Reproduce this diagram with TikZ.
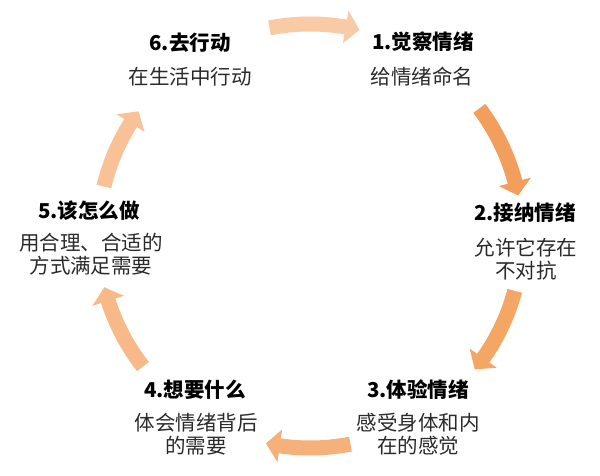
\documentclass[tikz,border=0pt]{standalone}
\usepackage{fontspec}
\setmainfont{Noto Sans CJK SC}
\definecolor{arA}{HTML}{F8CBA6}
\definecolor{arB}{HTML}{F29E5C}
\definecolor{arC}{HTML}{F4A665}
\definecolor{arD}{HTML}{F6B07A}
\definecolor{arE}{HTML}{F7B987}
\definecolor{arF}{HTML}{F8C196}
\definecolor{bodytext}{HTML}{2A2A2A}
\newcommand{\ringarrow}[3]{%
  \pgfmathsetmacro{\hb}{#2+3.8}%
  \fill[#3] ([shift={(#1:204.5pt)}]C) arc[start angle=#1, end angle=\hb, radius=204.5pt]
    -- ([shift={(\hb:195.5pt)}]C) -- ([shift={(#2:212pt)}]C) -- ([shift={(\hb:228.5pt)}]C)
    -- ([shift={(\hb:219.5pt)}]C) arc[start angle=\hb, end angle=#1, radius=219.5pt] -- cycle;
}
\tikzset{
  ttl/.style={font=\fontsize{20.5}{24}\selectfont\bfseries, text=black, inner sep=0pt},
  bdy/.style={font=\fontsize{20.5}{23}\selectfont, text=bodytext, align=center, inner sep=0pt}
}
\begin{document}
\begin{tikzpicture}[x=1pt,y=1pt]
\fill[white] (0,0) rectangle (600,476);
\useasboundingbox (0,0) rectangle (600,476);
\coordinate (C) at (310,240);
% ring of arrows
\ringarrow{101}{76.5}{arA}
\ringarrow{37}{11}{arB}
\ringarrow{-15}{-39}{arC}
\ringarrow{-79}{-102}{arD}
\ringarrow{-142}{-166}{arE}
\ringarrow{166.5}{144}{arF}
% texts
\node[ttl] (t1) at (423,434) {1.觉察情绪};
\node[bdy] (b1) at (422,399) {给情绪命名};
\node[ttl] (t2) at (525,263) {2.接纳情绪};
\node[bdy] (b2) at (526,217) {允许它存在\\不对抗};
\node[ttl] (t3) at (418,86) {3.体验情绪};
\node[bdy] (b3) at (418,41.5) {感受身体和内\\在的感觉};
\node[ttl] (t4) at (195,86) {4.想要什么};
\node[bdy] (b4) at (196,41.5) {体会情绪背后\\的需要};
\node[ttl] (t5) at (89,265) {5.该怎么做};
\node[bdy] (b5) at (91,221.5) {用合理、合适的\\方式满足需要};
\node[ttl] (t6) at (190,433) {6.去行动};
\node[bdy] (b6) at (190,399) {在生活中行动};
\end{tikzpicture}
\end{document}
